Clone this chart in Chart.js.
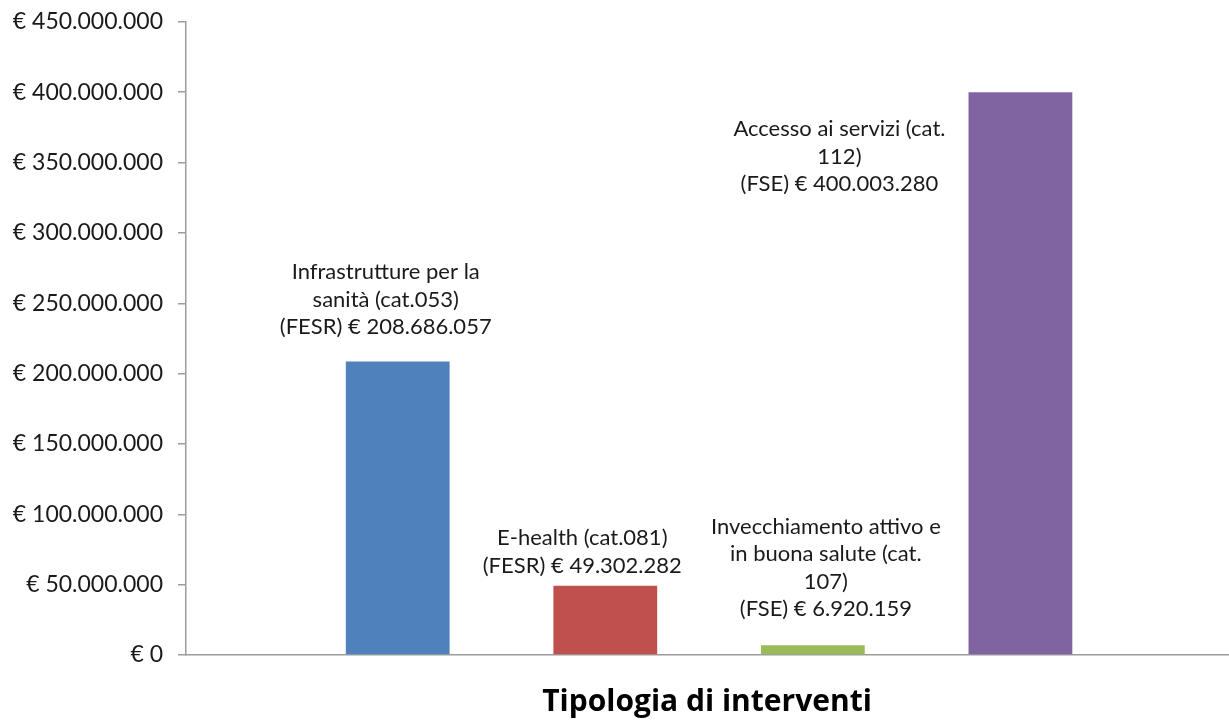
<!DOCTYPE html>
<html>
<head>
<meta charset="utf-8">
<script src="https://cdn.jsdelivr.net/npm/chart.js@4.4.1/dist/chart.umd.min.js"></script>
<style>
  html, body { margin: 0; padding: 0; background: #fff; }
  #wrap { width: 1229px; height: 720px; }
</style>
</head>
<body>
<div id="wrap"><canvas id="barChart"></canvas></div>
<script>
// tipologie di intervento, su piu' righe come nelle etichette
var categorie = [
  ['Infrastrutture per la', 'sanità (cat.053)'],
  ['E-health (cat.081)'],
  ['Invecchiamento attivo e', 'in buona salute (cat.', '107)'],
  ['Accesso ai servizi (cat.', '112)']
];
var fondi = ['FESR', 'FESR', 'FSE', 'FSE'];
var importi = [208686057, 49302282, 6920159, 400003280];
var colori = ['#4F81BD', '#C0504D', '#9BBB59', '#8064A2'];

// spostamento etichette rispetto alla cima della barra [dx, dy]
var spostaEtichette = [[-12, -34], [-23, -20], [13, -36], [-181, 92]];

var FONT = 'Lato, "Open Sans", sans-serif';

function euro(v){
  var s = Math.round(v).toString().replace(/\B(?=(\d{3})+(?!\d))/g, '.');
  return '€ ' + s;
}

var etichette = {
  id: 'etichette',
  afterDatasetsDraw: function(chart){
    var ctx = chart.ctx;
    var meta = chart.getDatasetMeta(0);
    ctx.save();
    ctx.font = '22px ' + FONT;
    ctx.fillStyle = '#1a1a1a';
    ctx.textAlign = 'center';
    ctx.textBaseline = 'middle';
    var lh = 27.5;
    meta.data.forEach(function(bar, i){
      var righe = categorie[i].concat(['(' + fondi[i] + ') ' + euro(importi[i])]);
      var x = bar.x + spostaEtichette[i][0];
      var yUltima = bar.y + spostaEtichette[i][1];
      righe.forEach(function(t, k){
        ctx.fillText(t, x, yUltima - (righe.length - 1 - k) * lh);
      });
    });
    ctx.restore();
  }
};

var punti = importi.map(function(v, i){ return {x: i + 1, y: v}; });

new Chart(document.getElementById('barChart').getContext('2d'), {
  type: 'bar',
  data: {
    datasets: [{
      data: punti,
      backgroundColor: colori,
      borderWidth: 0,
      barPercentage: 0.5,
      categoryPercentage: 1
    }]
  },
  options: {
    responsive: true,
    maintainAspectRatio: false,
    animation: false,
    layout: { padding: { top: 0, right: 1, left: 0, bottom: 0 } },
    plugins: {
      legend: { display: false },
      tooltip: { enabled: false }
    },
    scales: {
      x: {
        type: 'linear',
        offset: false,
        min: -0.02,
        max: 5,
        ticks: { display: false, stepSize: 1 },
        grid: { display: false },
        border: { color: '#9c9c9c', width: 1.5 },
        title: {
          display: true,
          text: 'Tipologia di interventi',
          font: { family: '"Open Sans", sans-serif', size: 30, weight: 'bold' },
          color: '#000',
          padding: { top: 0, bottom: 0 }
        },
        afterFit: function(s){ s.height = 65; }
      },
      y: {
        min: 0,
        max: 450000000,
        ticks: {
          stepSize: 50000000,
          padding: 15,
          color: '#1a1a1a',
          font: { family: FONT, size: 23, lineHeight: 0.6 },
          callback: function(v){ return euro(v); }
        },
        grid: { drawOnChartArea: false, tickLength: 8, color: '#9c9c9c', lineWidth: 1.5 },
        border: { color: '#9c9c9c', width: 1.5 },
        afterFit: function(s){ s.width = 186; }
      }
    }
  },
  plugins: [etichette]
});
</script>
</body>
</html>
